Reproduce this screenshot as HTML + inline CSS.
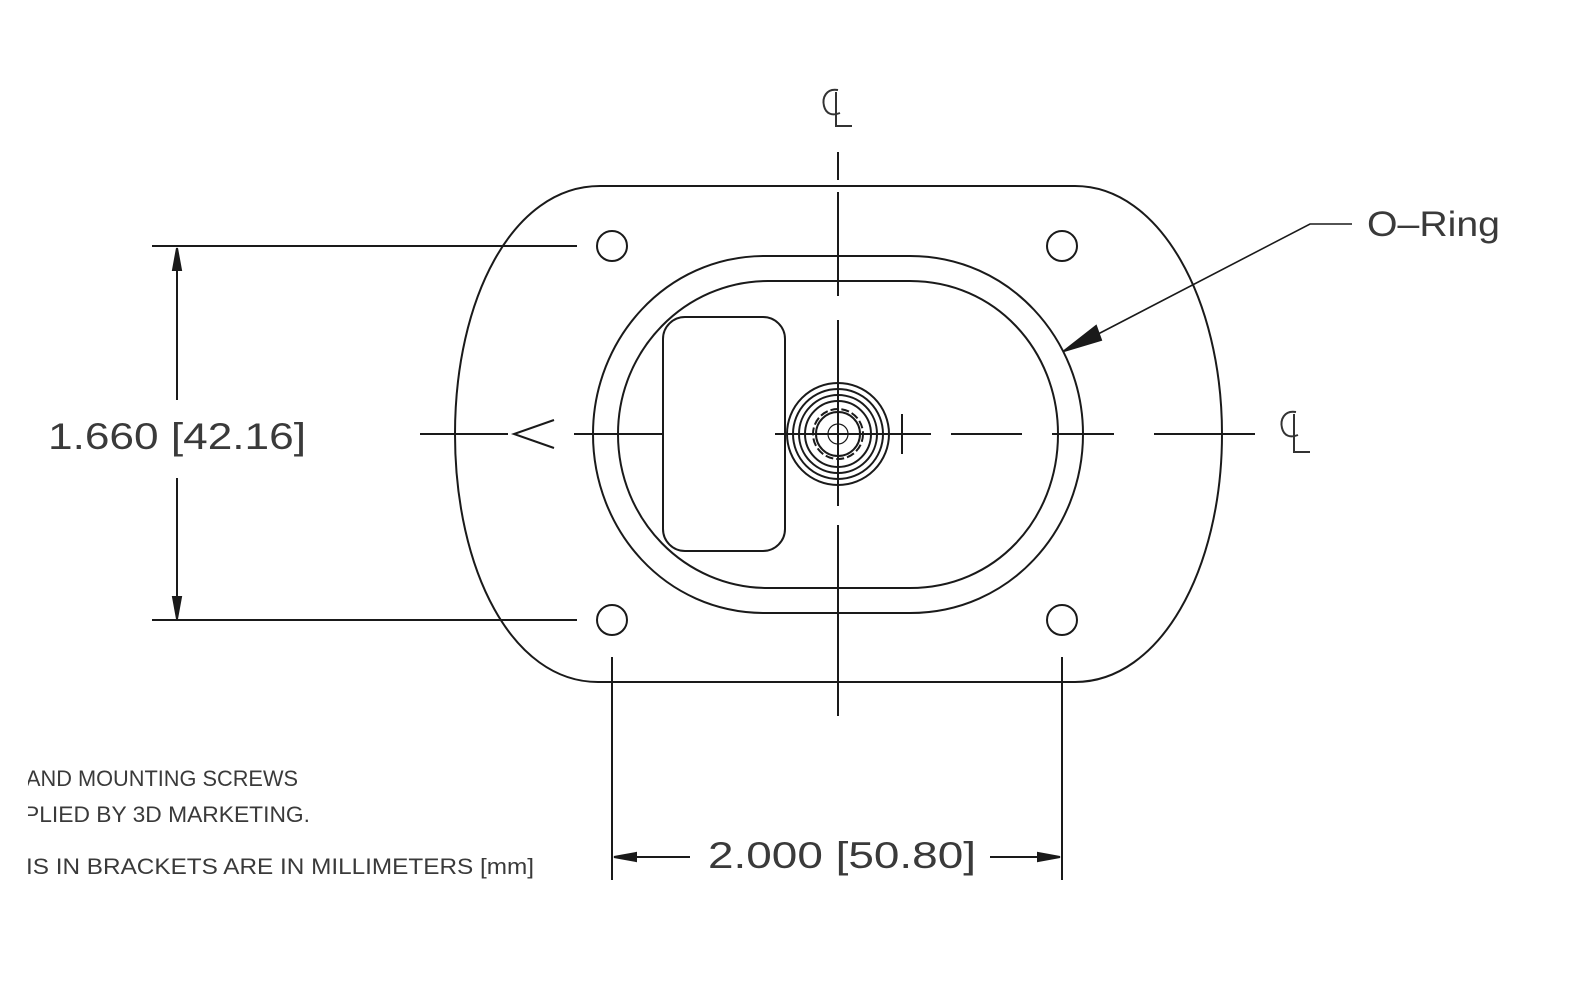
<!DOCTYPE html>
<html><head><meta charset="utf-8"><style>
html,body{margin:0;padding:0;background:#fff;}
svg{display:block;}
text{font-family:"Liberation Sans",sans-serif;fill:#3a3a3a;}
</style></head><body>
<svg width="1570" height="1006" viewBox="0 0 1570 1006" xmlns="http://www.w3.org/2000/svg">
<g fill="none" stroke="#1a1a1a" stroke-width="2">
<path d="M600,186 L1075,186 C1160,186 1222,300 1222,434 C1222,570 1160,682 1075,682 L598,682 C512,682 455,570 455,434 C455,300 512,186 600,186 Z"/>
<path d="M765,256 L910,256 C1010,256 1083,340 1083,434 C1083,530 1010,613 910,613 L765,613 C665,613 593,530 593,434 C593,340 665,256 765,256 Z"/>
<path d="M768,281 L910,281 C995,281 1058,350 1058,434 C1058,520 995,588 910,588 L768,588 C685,588 618,520 618,434 C618,350 685,281 768,281 Z"/>
<rect x="663" y="317" width="122" height="234" rx="22"/>
<circle cx="612" cy="246" r="15"/><circle cx="1062" cy="246" r="15"/>
<circle cx="612" cy="620" r="15"/><circle cx="1062" cy="620" r="15"/>
<circle cx="838" cy="434" r="51"/><circle cx="838" cy="434" r="45"/>
<circle cx="838" cy="434" r="39"/><circle cx="838" cy="434" r="33"/>
<circle cx="838" cy="434" r="25" stroke-dasharray="8 3"/>
<circle cx="838" cy="434" r="22"/>
<circle cx="838" cy="434" r="10" stroke-width="1.2"/>
<path d="M838,152 V180 M838,192 V296 M838,320 V366 M838,365 V506 M838,525 V570 M838,568 V716"/>
<path d="M420,434 H508 M574,434 H663 M775,434 H931 M951,434 H1022 M1052,434 H1114 M1154,434 H1255"/>
<path d="M554,420 L514,434 L554,448"/>
<path d="M902,414 V454"/>
<path d="M152,246 H577 M152,620 H577 M177,250 V400 M177,478 V617"/>
<path d="M177,248 L173,270 L181,270 Z M177,619 L173,597 L181,597 Z" fill="#1a1a1a"/>
<path d="M612,657 V880 M1062,657 V880 M614,857 H690 M990,857 H1060"/>
<path d="M614,857 L636,853 L636,861 Z M1060,857 L1038,853 L1038,861 Z" fill="#1a1a1a"/>
<path d="M1352,224 H1310 L1075,346" stroke-width="1.6"/>
<path d="M1064,351 L1096,326 L1101,340 Z" fill="#1a1a1a"/>
</g>
<g fill="none" stroke="#333" stroke-width="2">
<path d="M838,90 C826,88 822,98 824,106 C826,114 832,116 840,113 M836,92 V126 H852"/>
<path d="M1296,412 C1284,410 1280,420 1282,428 C1284,436 1290,438 1298,435 M1294,414 V452 H1310"/>
</g>
<text x="48" y="449" font-size="37" textLength="258" lengthAdjust="spacingAndGlyphs" fill="#4a4a4a">1.660 [42.16]</text>
<text x="708" y="868" font-size="37" textLength="268" lengthAdjust="spacingAndGlyphs" fill="#4a4a4a">2.000 [50.80]</text>
<text x="1367" y="236" font-size="35" textLength="133" lengthAdjust="spacingAndGlyphs" fill="#4a4a4a">O–Ring</text>
<text x="26" y="786" font-size="22" textLength="272" lengthAdjust="spacingAndGlyphs">AND MOUNTING SCREWS</text>
<text x="24" y="822" font-size="22" textLength="286" lengthAdjust="spacingAndGlyphs">PLIED BY 3D MARKETING.</text>
<text x="26" y="874" font-size="22" textLength="508" lengthAdjust="spacingAndGlyphs">IS IN BRACKETS ARE IN MILLIMETERS [mm]</text>
<rect x="0" y="760" width="28" height="130" fill="#fff"/>
</svg>
</body></html>
